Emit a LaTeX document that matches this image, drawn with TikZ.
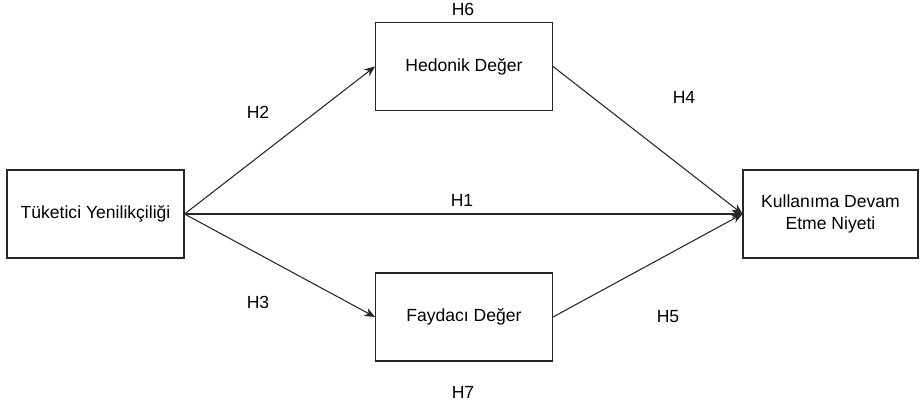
\documentclass[tikz,border=0pt]{standalone}
\usepackage{fontspec}
\setmainfont{Liberation Sans}
\usetikzlibrary{arrows.meta}

\tikzset{
  box/.style={draw=black!85, line width=0.6pt, minimum width=3.54cm, minimum height=1.76cm, align=center, font=\fontsize{10}{12}\selectfont},
  lbl/.style={font=\fontsize{10}{12}\selectfont},
  path/.style={draw=black!85, line width=0.6pt, -{Stealth[length=6pt, width=5pt]}}
}

\begin{document}
\begin{tikzpicture}[x=0.02cm, y=-0.02cm]
% Fix the picture size to the reference
\useasboundingbox (0, 0) rectangle (920, 408);
% Draw the four construct boxes
\node[box] (tuk) at (95.5, 214) {Tüketici Yenilikçiliği};
\node[box] (hed) at (464, 66.5) {Hedonik Değer};
\node[box] (fay) at (464, 317) {Faydacı Değer};
\node[box, minimum width=3.5cm] (kul) at (830.5, 214) {Kullanıma Devam\\Etme Niyeti};
% Draw the hypothesis paths
\draw[path] (tuk.east) -- (hed.west);
\draw[path] (tuk.east) -- (kul.west);
\draw[path] (tuk.east) -- (fay.west);
\draw[path] (hed.east) -- (kul.west);
\draw[path] (fay.east) -- (kul.west);
% Place the hypothesis labels
\node[lbl] (h1) at (462, 200) {H1};
\node[lbl] (h2) at (258, 112) {H2};
\node[lbl] (h3) at (258, 302) {H3};
\node[lbl] (h4) at (684, 97) {H4};
\node[lbl] (h5) at (668, 317) {H5};
\node[lbl] (h6) at (463, 9) {H6};
\node[lbl] (h7) at (463, 392) {H7};
\end{tikzpicture}
\end{document}
